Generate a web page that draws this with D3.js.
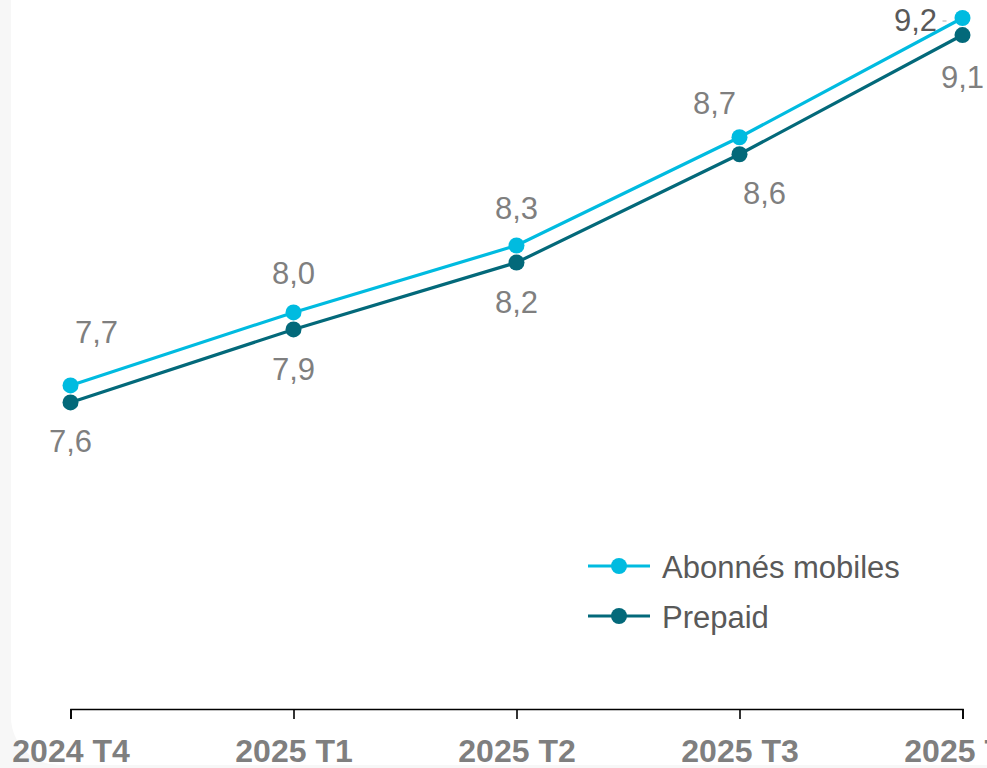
<!DOCTYPE html>
<html>
<head>
<meta charset="utf-8">
<script src="https://cdnjs.cloudflare.com/ajax/libs/d3/7.8.5/d3.min.js"></script>
<style>
  body { margin: 0; background: #f7f7f7; overflow: hidden; }
  svg { display: block; font-family: "Liberation Sans", Arial, sans-serif; }
</style>
</head>
<body>
<div id="chart"></div>
<script>
// data (millions)
var quarters = ["2024 T4", "2025 T1", "2025 T2", "2025 T3", "2025 T4"];
var abonnes  = [7.68, 7.98, 8.255, 8.70, 9.19];
var prepaid  = [7.61, 7.91, 8.185, 8.63, 9.12];
var seriesNames = ["Abonnés mobiles", "Prepaid"];

var width = 987, height = 768;
var colors = ["#00bbe0", "#03697a"];

// label nudges (px), one per point
var labelAbove = { dx: [26, 0, 0, -25, -47], dy: [-53, -39, -37, -34, 2] };
var labelBelow = { dx: [0, 0, 0, 25, 0], dy: [39, 40, 40, 39, 42] };

var svg = d3.select("#chart").append("svg")
    .attr("width", width)
    .attr("height", height);

// card
svg.append("rect")
    .attr("x", 11).attr("y", -60)
    .attr("width", 1030).attr("height", 825)
    .attr("rx", 48)
    .attr("fill", "#ffffff");

// title, almost entirely above the visible area
svg.append("text")
    .attr("x", 600).attr("y", -8)
    .attr("text-anchor", "middle")
    .attr("font-size", 30).attr("font-weight", "bold")
    .attr("fill", "#404040")
    .text("Abonnés mobiles et prepaid (en millions)");

var x = d3.scalePoint().domain(quarters).range([70.5, 962.5]);
var y = d3.scaleLinear().domain([6.35, 9.264]).range([709, 0]);

var axis = svg.append("g")
    .attr("transform", "translate(0,709)")
    .call(d3.axisBottom(x).tickSize(10).tickSizeOuter(10));

axis.select(".domain").attr("stroke", "#000").attr("stroke-width", 1.6);
axis.selectAll(".tick line").attr("stroke", "#000").attr("stroke-width", 1.6);
axis.selectAll(".tick text")
    .attr("dy", null)
    .attr("y", 53)
    .attr("font-size", 32)
    .attr("font-weight", "bold")
    .attr("font-family", "'Liberation Sans', Arial, sans-serif")
    .attr("fill", "#7f7f7f");

var line = d3.line()
    .x(function(d, i) { return x(quarters[i]); })
    .y(function(d) { return y(d); });

var fmt = function(v) { return d3.format(".1f")(v).replace(".", ","); };

[abonnes, prepaid].forEach(function(vals, s) {
  svg.append("path")
      .datum(vals)
      .attr("d", line)
      .attr("fill", "none")
      .attr("stroke", colors[s])
      .attr("stroke-width", 3.2);

  svg.selectAll(".dot" + s)
      .data(vals)
      .enter().append("circle")
      .attr("cx", function(d, i) { return x(quarters[i]); })
      .attr("cy", function(d) { return y(d); })
      .attr("r", 8)
      .attr("fill", colors[s]);

  var off = s === 0 ? labelAbove : labelBelow;
  svg.selectAll(".lab" + s)
      .data(vals)
      .enter().append("text")
      .attr("x", function(d, i) { return x(quarters[i]) + off.dx[i]; })
      .attr("y", function(d, i) { return y(d) + off.dy[i]; })
      .attr("text-anchor", "middle")
      .attr("dominant-baseline", "central")
      .attr("font-size", 31)
      .attr("fill", function(d, i) { return (s === 0 && i === 4) ? "#595959" : "#7f7f7f"; })
      .text(fmt);
});

// small leader next to the last label
svg.append("line")
    .attr("x1", x(quarters[4]) - 20).attr("x2", x(quarters[4]) - 16)
    .attr("y1", y(abonnes[4]) + 3).attr("y2", y(abonnes[4]) + 3)
    .attr("stroke", "#aaa").attr("stroke-width", 1);

// legend
var legend = svg.append("g").attr("transform", "translate(588,566)");
seriesNames.forEach(function(name, i) {
  var g = legend.append("g").attr("transform", "translate(0," + (i * 50) + ")");
  g.append("line").attr("x1", 0).attr("x2", 62)
      .attr("stroke", colors[i]).attr("stroke-width", 3.2);
  g.append("circle").attr("cx", 31).attr("r", 8).attr("fill", colors[i]);
  g.append("text")
      .attr("x", 74).attr("y", 1)
      .attr("dominant-baseline", "central")
      .attr("font-size", 31)
      .attr("fill", "#595959")
      .text(name);
});
</script>
</body>
</html>
